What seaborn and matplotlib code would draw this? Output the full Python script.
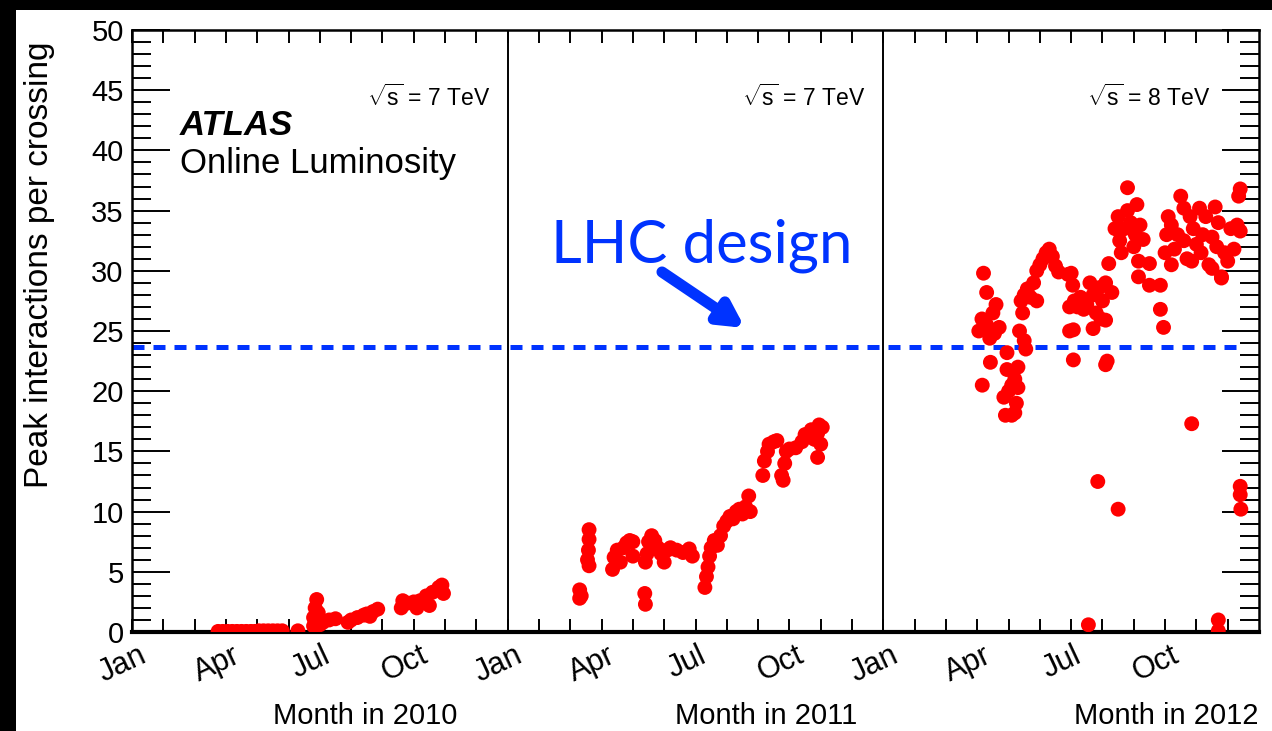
import matplotlib
matplotlib.use("Agg")
import matplotlib.pyplot as plt
import matplotlib.transforms as mtransforms
from matplotlib.patches import Rectangle
from matplotlib.ticker import MultipleLocator
import numpy as np
import pandas as pd
import seaborn as sns

sns.set_style("ticks")
plt.rcParams["font.family"] = ["Liberation Sans", "DejaVu Sans"]
plt.rcParams["mathtext.fontset"] = "custom"
plt.rcParams["mathtext.rm"] = "Liberation Sans"
for key in ["text.color", "axes.labelcolor", "xtick.color", "ytick.color", "axes.edgecolor"]:
    plt.rcParams[key] = "black"

# peak pile-up: month within the year (0 = 1 Jan) and mu
months_2010 = [2.75, 2.9, 3.05, 3.2, 3.35, 3.5, 3.65, 3.8, 3.93, 4.05, 4.2, 4.35, 4.5, 4.65, 4.8, 5.3,
               5.8, 5.8, 5.85, 5.9, 5.95, 6.0, 6.1, 6.3, 6.5,
               6.9, 7.0, 7.2, 7.4, 7.5, 7.6, 7.7, 7.85,
               8.6, 8.65, 8.8, 9.0, 9.1, 9.2, 9.4, 9.5, 9.6, 9.8, 9.9, 9.95]
mu_2010 = [0.05, 0.05, 0.05, 0.05, 0.05, 0.05, 0.05, 0.05, 0.05, 0.1, 0.1, 0.1, 0.1, 0.1, 0.1, 0.1,
           0.5, 1.2, 2.0, 2.7, 1.6, 0.6, 0.8, 1.0, 1.1,
           0.8, 1.0, 1.2, 1.4, 1.5, 1.3, 1.7, 1.9,
           2.0, 2.6, 2.4, 2.5, 2.0, 2.6, 3.0, 2.2, 3.3, 3.7, 3.9, 3.2]

months_2011 = [2.3, 2.3, 2.35,
               2.6, 2.6, 2.58, 2.55, 2.6,
               3.35, 3.4, 3.5, 3.6, 3.7, 3.8, 3.9, 4.0, 4.0,
               4.38, 4.4,
               4.4, 4.45, 4.5, 4.6, 4.7, 4.8, 4.9, 5.0, 5.1, 5.2, 5.4, 5.6, 5.8, 5.9,
               6.3, 6.35, 6.4, 6.45, 6.5, 6.6, 6.7, 6.8, 6.9, 7.0, 7.1, 7.2, 7.3, 7.4, 7.5, 7.6, 7.7, 7.75,
               8.15, 8.2, 8.3, 8.35, 8.5, 8.6, 8.75, 8.8, 8.85, 8.9, 9.0, 9.2, 9.4, 9.5, 9.6, 9.7,
               9.8, 9.9, 9.95, 10.0, 9.9, 10.05]
mu_2011 = [3.5, 2.8, 3.0,
           8.5, 7.7, 6.8, 6.0, 5.5,
           5.2, 6.2, 6.8, 5.8, 7.0, 7.4, 7.6, 7.5, 6.3,
           3.2, 2.3,
           5.8, 6.5, 7.5, 8.0, 7.6, 7.0, 6.5, 5.8, 6.8, 7.0, 6.8, 6.6, 6.9, 6.3,
           3.7, 4.6, 5.4, 6.3, 7.0, 7.6, 7.2, 8.0, 8.8, 9.2, 9.6, 9.4, 10.0, 10.2, 9.8, 10.4, 11.3, 10.0,
           13.0, 14.2, 15.0, 15.6, 15.8, 15.9, 13.0, 12.6, 14.0, 15.0, 15.2, 15.3, 15.8, 16.4, 16.2, 16.8,
           16.0, 16.5, 17.2, 15.6, 14.5, 17.0]

months_2012 = [3.2, 3.3, 3.16, 3.05, 3.15, 3.3, 3.4, 3.5, 3.6, 3.55, 3.7, 3.42,
               3.95, 3.95, 4.0, 3.85, 4.1, 4.2, 4.25, 4.3, 4.1, 3.9, 4.2, 4.3,
               4.35, 4.45, 4.5, 4.55,
               4.4, 4.5, 4.6, 4.7, 4.8, 4.9, 5.0, 5.1, 5.2, 5.3, 5.4, 5.5, 5.6, 4.9,
               5.9, 5.95, 5.95,
               6.0, 6.05, 6.1, 6.2, 6.3, 6.4, 6.5, 6.6, 6.7, 6.8, 6.9, 7.0, 7.1, 7.2, 7.3, 7.1, 6.95, 6.7,
               6.07, 6.07, 7.1, 7.15, 6.85, 7.5, 6.55,
               7.8, 7.4, 7.5, 7.55, 7.7, 7.8, 7.9, 8.0, 8.05, 8.1, 8.2, 8.3, 8.15, 7.6,
               8.5, 8.5, 8.85, 8.85, 8.95, 8.15,
               9.0, 9.05, 9.1, 9.2, 9.2, 9.3, 9.4, 9.5, 9.6, 9.6, 9.7, 9.8, 9.85, 9.9, 10.0,
               10.1, 10.15, 10.2, 10.3, 10.4, 10.5, 10.6, 10.65, 10.7, 10.8, 10.9, 11.0, 11.1,
               11.2, 11.3, 11.4, 11.35, 11.4, 10.8, 10.5,
               9.85, 11.4, 11.4, 11.42, 10.7, 10.7]
mu_2012 = [29.8, 28.2, 20.5, 25.0, 26.0, 25.5, 24.4, 26.5, 27.2, 24.8, 25.3, 22.4,
           23.2, 21.8, 20.0, 19.5, 20.5, 21.0, 19.0, 22.0, 18.0, 18.0, 18.2, 20.3,
           25.0, 26.5, 24.2, 23.5,
           27.5, 28.0, 28.5, 27.8, 29.0, 30.0, 30.5, 31.0, 31.5, 31.8, 31.2, 30.4, 29.9, 27.5,
           29.7, 27.0, 25.0,
           29.8, 28.8, 27.5, 27.0, 27.8, 26.8, 27.2, 29.0, 28.0, 26.5, 28.6, 27.5, 29.0, 30.6, 28.2, 25.9, 26.0, 25.2,
           25.1, 22.6, 22.2, 22.5, 12.5, 10.2, 0.6,
           36.9, 33.5, 34.5, 32.5, 33.5, 35.0, 34.0, 32.0, 33.0, 35.5, 33.8, 32.6, 30.8, 31.5,
           30.6, 28.8, 28.8, 26.8, 25.3, 29.5,
           31.5, 33.0, 34.5, 33.8, 30.5, 31.8, 33.0, 36.2, 35.2, 32.5, 31.0, 34.5, 30.8, 33.5, 32.2,
           35.2, 31.5, 33.0, 34.5, 30.5, 32.8, 35.3, 32.0, 34.0, 29.5, 31.5, 30.8, 33.5,
           31.8, 33.8, 36.8, 36.2, 33.3, 29.4, 30.2,
           17.3, 12.1, 11.4, 10.2, 1.0, 0.1]

years = ["2010", "2011", "2012"]
energies = ["7", "7", "8"]
month_names = ["Jan", "Apr", "Jul", "Oct"]
lhc_design_mu = 23.65

frames = []
for i, (m, mu) in enumerate([(months_2010, mu_2010), (months_2011, mu_2011), (months_2012, mu_2012)]):
    frames.append(pd.DataFrame({"month": np.array(m) + 12 * i, "mu": mu, "year": years[i]}))
df = pd.concat(frames, ignore_index=True)

fig = plt.figure(figsize=(12.72, 7.31), dpi=100)
fig.patch.set_facecolor("black")
fig.add_artist(Rectangle((16 / 1272, 0), 1, 1 - 10 / 731, transform=fig.transFigure,
                         facecolor="white", edgecolor="none", zorder=-1))
ax = fig.add_axes([132 / 1272, 1 - 632 / 731, 1127 / 1272, 602 / 731])

# LHC design line and year separators
ax.axhline(lhc_design_mu, xmin=0, xmax=0.985, color="#0033ff", lw=3.6, dashes=(2.4, 1.8), zorder=1)
for b in [12, 24]:
    ax.axvline(b, color="black", lw=1.4, zorder=1)

sns.scatterplot(data=df, x="month", y="mu", ax=ax, color="#ff0000", s=115,
                edgecolor="none", linewidth=0, zorder=3, legend=False)

ax.set_xlim(0, 36)
ax.set_ylim(0, 50)

# axis styling, ROOT-like
ax.set_xticks(np.arange(0, 36, 1))
labels = [month_names[k // 3] if k % 3 == 0 else "" for k in range(12)] * 3
ax.set_xticklabels(labels, rotation=25, ha="center", fontsize=22)
ax.tick_params(axis="x", which="major", direction="in", length=9.5, width=1.4,
               top=True, bottom=True, pad=6)
offset = mtransforms.ScaledTranslation(-0.09, 0, fig.dpi_scale_trans)
for lab in ax.get_xticklabels():
    lab.set_transform(lab.get_transform() + offset)

ax.yaxis.set_major_locator(MultipleLocator(5))
ax.yaxis.set_minor_locator(MultipleLocator(1))
ax.tick_params(axis="y", which="major", direction="in", length=27, width=1.4,
               left=True, right=True, labelsize=21, pad=6)
ax.tick_params(axis="y", which="minor", direction="in", length=14, width=1.4,
               left=True, right=True)

ax.spines["bottom"].set_linewidth(3.0)
ax.spines["left"].set_linewidth(1.8)
ax.spines["top"].set_linewidth(1.8)
ax.spines["right"].set_linewidth(1.8)
for s in ax.spines.values():
    s.set_visible(True)
    s.set_color("black")

ax.set_xlabel("")
ax.set_ylabel("Peak interactions per crossing", fontsize=24)
ax.yaxis.set_label_coords(-0.068, 0.61)

trans = mtransforms.blended_transform_factory(ax.transData, ax.transAxes)
for x, yr in zip([7.44, 20.26, 33.04], years):
    ax.text(x, -0.14, f"Month in {yr}", transform=trans, ha="center", va="center", fontsize=21)

for x, e in zip([11.44, 23.42, 34.44], energies):
    ax.text(x, 44.4, r"$\sqrt{\mathrm{s}}$ = " + e + " TeV", ha="right", va="center", fontsize=16.5)

ax.text(1.53, 42.1, "ATLAS", fontsize=25, fontweight="bold", fontstyle="italic", va="center")
ax.text(1.53, 38.95, "Online Luminosity", fontsize=25, va="center")

ax.text(18.2, 32.1, "LHC design", color="#0033ff", fontsize=43, family=["Lato", "DejaVu Sans"],
        ha="center", va="center")
ax.annotate("", xy=(19.58, 25.25), xytext=(16.93, 29.9),
            arrowprops=dict(arrowstyle="-|>,head_length=1.4,head_width=0.75",
                            color="#0033ff", lw=8, shrinkA=0, shrinkB=0))

fig.savefig("out.png", dpi=100, facecolor=fig.get_facecolor())
